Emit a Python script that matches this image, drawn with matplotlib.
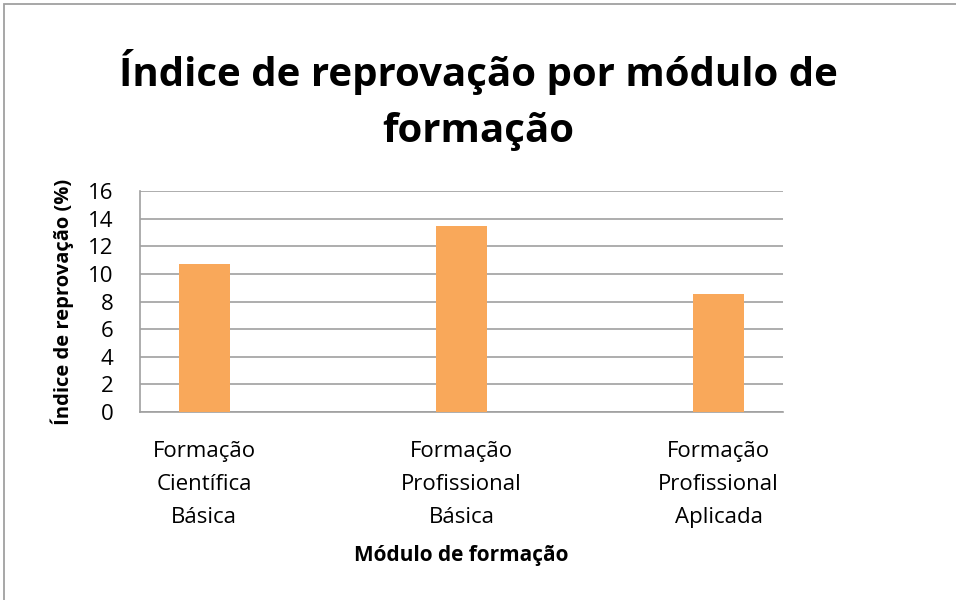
import matplotlib.pyplot as plt
from matplotlib.patches import Rectangle

modulos = ["Formação\nCientífica\nBásica", "Formação\nProfissional\nBásica", "Formação\nProfissional\nAplicada"]
indices = [10.7, 13.45, 8.55]
yticks = [0, 2, 4, 6, 8, 10, 12, 14, 16]

plt.rcParams['font.family'] = ['Open Sans', 'DejaVu Sans']

fig = plt.figure(figsize=(9.56, 6), dpi=100)
ax = fig.add_axes([0.1464, 0.3133, 0.6726, 0.3684])

# moldura do gráfico (só esquerda e topo aparecem)
fig.patches.append(Rectangle((4 / 956, -0.1), 1.2, (596 / 600) + 0.1, transform=fig.transFigure,
                             fill=False, edgecolor="#a0a0a0", linewidth=1.3))

x = range(len(modulos))
ax.bar(x, indices, width=0.2, color="#f9a85a", zorder=3)
ax.set_xlim(-0.25, 2.25)
ax.set_ylim(0, 16)
ax.set_yticks(yticks)
ax.set_xticks(list(x))
ax.set_xticklabels(modulos, fontsize=16, linespacing=1.75)
ax.tick_params(axis='both', length=0, labelsize=16)
ax.tick_params(axis='x', pad=21)
ax.tick_params(axis='y', pad=19)
ax.grid(axis='y', color="#a0a0a0", linewidth=1.2, zorder=0)
for s in ['top', 'right']:
    ax.spines[s].set_visible(False)
for s in ['left', 'bottom']:
    ax.spines[s].set_color("#a0a0a0")
    ax.spines[s].set_linewidth(1.2)

ax.set_ylabel("Índice de reprovação (%)", fontsize=14.5, fontweight='bold', labelpad=10)
ax.set_xlabel("Módulo de formação", fontsize=15, fontweight='bold', labelpad=12)
fig.text(0.5, 0.833, "Índice de reprovação por módulo de\nformação", ha='center', va='center',
         fontsize=29, fontweight='bold', linespacing=1.55)

fig.savefig("out.png", dpi=100)
